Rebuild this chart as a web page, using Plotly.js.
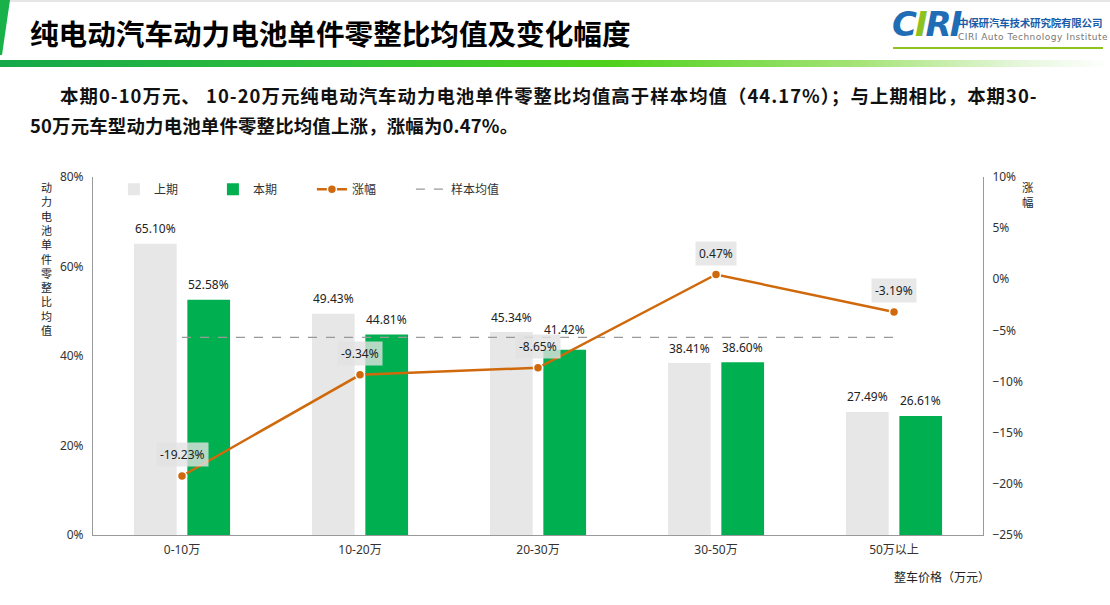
<!DOCTYPE html>
<html>
<head>
<meta charset="utf-8">
<script src="https://cdn.plot.ly/plotly-3.0.1.min.js"></script>
<style>
  body { margin: 0; background: #fff; font-family: "Noto Sans CJK SC", "Noto Sans", sans-serif; }
  #wrap { position: relative; width: 1110px; height: 605px; overflow: hidden; }
  #chart { position: absolute; left: 0; top: 0; width: 1110px; height: 605px; }
  .topline { position: absolute; left: 0; top: 0; width: 1110px; height: 2px; background: #e6e6e6; }
  .flag { position: absolute; left: 0; top: 0; width: 10px; height: 55px; background: #19b14a;
          clip-path: polygon(0 0, 100% 0, 20% 100%, 0 100%); }
  .title { position: absolute; left: 30px; top: 13px; font-size: 28.6px; font-weight: 700; color: #000; white-space: nowrap; line-height: 40px; }
  .band { position: absolute; left: 0; top: 60px; width: 1110px; height: 7px;
          background: linear-gradient(to right, #15a84a 0%, #2fbf3a 30%, #4fd11c 55%, #a8e47a 78%, #e6f7dc 92%, #ffffff 100%); }
  .logo { position: absolute; left: 890px; top: 8px; width: 215px; height: 45px; }
  .logo .ciri { position: absolute; left: 2px; top: -4px; font-family: "DejaVu Sans", sans-serif; font-size: 34px; font-weight: 700;
                font-style: italic; color: #1f6db5; letter-spacing: -2px; }
  .logo .ciri b { color: #8dc21f; }
  .logo .cn { position: absolute; left: 68px; top: 7px; font-size: 10.5px; font-weight: 700; color: #1a5ca8; white-space: nowrap; letter-spacing: -0.2px; }
  .logo .en { position: absolute; left: 68px; top: 24px; font-family: "DejaVu Sans", sans-serif; font-size: 9px; color: #777; white-space: nowrap; letter-spacing: 0.5px; }
  .logo .ul { position: absolute; left: 3px; top: 39px; width: 210px; height: 2px; background: #8dc21f; }
  .sub { position: absolute; font-size: 18.4px; font-weight: 700; color: #111; white-space: nowrap; }
</style>
</head>
<body>
<div id="wrap">
  <div id="chart"></div>
  <div class="topline"></div>
  <div class="flag"></div>
  <div class="title">纯电动汽车动力电池单件零整比均值及变化幅度</div>
  <div class="band"></div>
  <div class="logo">
    <div class="ciri">C<b>I</b>RI</div>
    <div class="cn">中保研汽车技术研究院有限公司</div>
    <div class="en">CIRI Auto Technology Institute</div>
    <div class="ul"></div>
  </div>
  <div class="sub" style="left:60px; top:82px; letter-spacing:1.05px;">本期0-10万元、 10-20万元纯电动汽车动力电池单件零整比均值高于样本均值（44.17%）；与上期相比，本期30-</div>
  <div class="sub" style="left:30px; top:112px; letter-spacing:0.2px;">50万元车型动力电池单件零整比均值上涨，涨幅为0.47%。</div>
</div>
<script>
// 数据
const categories = ['0-10万', '10-20万', '20-30万', '30-50万', '50万以上'];
const prevValues = [65.10, 49.43, 45.34, 38.41, 27.49];   // 上期
const currValues = [52.58, 44.81, 41.42, 38.60, 26.61];   // 本期
const changeValues = [-19.23, -9.34, -8.65, 0.47, -3.19]; // 涨幅
const sampleMean = 44.17;                                  // 样本均值

const pct = v => v.toFixed(2) + '%';
const FONT = '"Noto Sans", "Noto Sans CJK SC", sans-serif';
const CJK = '"Noto Sans CJK SC", sans-serif';
const lineColor = '#d0690c';

const traces = [
  { type: 'bar', name: '上期', x: categories, y: prevValues, marker: { color: '#e7e7e7' } },
  { type: 'bar', name: '本期', x: categories, y: currValues, marker: { color: '#00b050' } },
  {
    type: 'scatter', mode: 'lines+markers', name: '涨幅', x: categories, y: changeValues,
    yaxis: 'y2', line: { color: lineColor, width: 2.5 },
    marker: { color: lineColor, size: 9, line: { color: '#fff', width: 1.5 } }
  },
  {
    type: 'scatter', mode: 'lines', name: '样本均值',
    x: [categories[0], categories[categories.length - 1]], y: [sampleMean, sampleMean],
    line: { color: '#999', width: 1.2, dash: 'dash' }
  }
];

// bar value labels, a bit above each bar (two bars per group);
// the 20-30万 本期 label is lifted a little more to clear the line label
const barLabel = (vals, shift, lift) => categories.map((c, i) => ({
  x: c, y: vals[i], xref: 'x', yref: 'y', text: pct(vals[i]), showarrow: false,
  xshift: shift, yshift: (lift && lift[c]) || 15, font: { size: 12, color: '#222', family: FONT }
}));

const changeLabels = categories.map((c, i) => ({
  x: c, y: changeValues[i], xref: 'x', yref: 'y2',
  text: pct(changeValues[i]), showarrow: false, yshift: 21,
  bgcolor: 'rgba(226,226,226,0.8)', borderpad: 3,
  font: { size: 12, color: '#222', family: FONT }
}));

const layout = {
  width: 1110, height: 605,
  margin: { l: 93, r: 127, t: 177, b: 70 },
  paper_bgcolor: 'rgba(0,0,0,0)', plot_bgcolor: 'rgba(0,0,0,0)',
  font: { family: FONT, size: 12, color: '#333' },
  barmode: 'group', bargap: 0.4, bargroupgap: 0.2,
  showlegend: true,
  legend: {
    orientation: 'h', x: 0.0235, y: 0.966, yanchor: 'middle', xanchor: 'left',
    entrywidth: 54, entrywidthmode: 'pixels',
    font: { size: 12, color: '#333', family: CJK }, bgcolor: 'rgba(0,0,0,0)'
  },
  xaxis: {
    type: 'category', showline: true, linecolor: '#999', linewidth: 1,
    showgrid: false, ticks: '', ticklabelstandoff: 4,
    tickfont: { size: 12, color: '#333' }
  },
  yaxis: {
    range: [0, 80], dtick: 20, ticksuffix: '%', showline: true, linecolor: '#999',
    showgrid: false, zeroline: false, ticks: '', ticklabelstandoff: 6,
    tickfont: { size: 12, color: '#333' }
  },
  yaxis2: {
    overlaying: 'y', side: 'right', range: [-25, 10], dtick: 5, ticksuffix: '%',
    showline: true, linecolor: '#999', showgrid: false, zeroline: false, ticks: '',
    ticklabelstandoff: 6, tickfont: { size: 12, color: '#333' }
  },
  annotations: barLabel(prevValues, -26.5).concat(barLabel(currValues, 26.5, { '20-30万': 20 }), changeLabels, [
    {
      xref: 'paper', yref: 'paper', x: -0.052, y: 1.0, xanchor: 'center', yanchor: 'top',
      text: '动<br>力<br>电<br>池<br>单<br>件<br>零<br>整<br>比<br>均<br>值',
      showarrow: false, font: { size: 11, color: '#222', family: CJK }
    },
    {
      xref: 'paper', yref: 'paper', x: 1.0506, y: 1.0, xanchor: 'center', yanchor: 'top',
      text: '涨<br>幅', showarrow: false, font: { size: 11.5, color: '#222', family: CJK }
    },
    {
      xref: 'paper', yref: 'paper', x: 1.0, y: -0.117, xanchor: 'right', yanchor: 'middle',
      xshift: 9, text: '整车价格（万元）', showarrow: false,
      font: { size: 12, color: '#222', family: CJK }
    }
  ])
};

Plotly.newPlot('chart', traces, layout, { displayModeBar: false, staticPlot: true });
</script>
</body>
</html>
